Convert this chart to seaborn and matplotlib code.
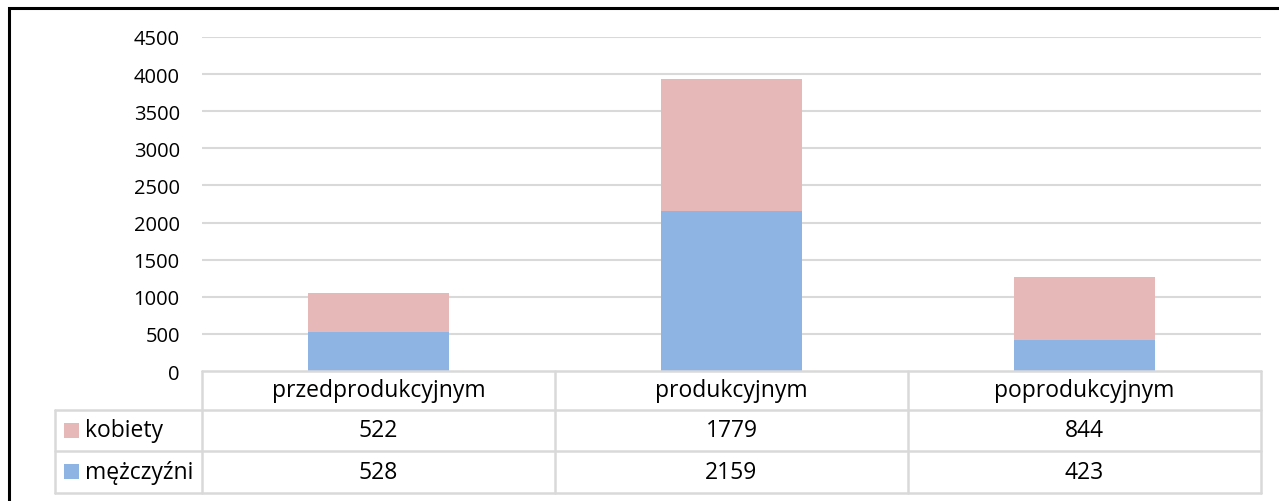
import matplotlib
matplotlib.use("Agg")
import matplotlib.pyplot as plt
import seaborn as sns
import pandas as pd
from matplotlib.patches import Rectangle

# dane
kategorie = ['przedprodukcyjnym', 'produkcyjnym', 'poprodukcyjnym']
kobiety = [522, 1779, 844]
mezczyzni = [528, 2159, 423]
serie = ['kobiety', 'mężczyźni']
kolory = {'kobiety': '#E6B8B7', 'mężczyźni': '#8EB4E3'}
y_ticks = [0, 500, 1000, 1500, 2000, 2500, 3000, 3500, 4000, 4500]

sns.set_style("white")
plt.rcParams['font.family'] = ['Open Sans', 'DejaVu Sans']
plt.rcParams['text.color'] = 'black'
plt.rcParams['ytick.color'] = 'black'

df = pd.DataFrame({'kategoria': kategorie, 'kobiety': kobiety, 'mężczyźni': mezczyzni})
df['razem'] = df['kobiety'] + df['mężczyźni']

W, H = 1279, 502
fig = plt.figure(figsize=(W / 100, H / 100), dpi=100)

# ramka wykresu
fig.patches.append(Rectangle((9 / W, -0.1), 1.2, (H - 9) / H + 0.1, transform=fig.transFigure,
                             fill=False, edgecolor='black', linewidth=2.2, zorder=10))

x0, x1, y_top, y_zero = 202, 1261, 38, 372
ax = fig.add_axes([x0 / W, (H - y_zero) / H, (x1 - x0) / W, (y_zero - y_top) / H])

# słupki skumulowane: najpierw suma (kobiety na górze), potem mężczyźni
sns.barplot(data=df, x='kategoria', y='razem', color=kolory['kobiety'], width=0.4,
            saturation=1, ax=ax, zorder=3, linewidth=0)
sns.barplot(data=df, x='kategoria', y='mężczyźni', color=kolory['mężczyźni'], width=0.4,
            saturation=1, ax=ax, zorder=3, linewidth=0)

ax.set_ylim(0, 4500)
ax.set_yticks(y_ticks)
ax.set_yticklabels([str(t) for t in y_ticks], fontsize=14.5, color='black')
ax.tick_params(axis='y', length=0, pad=16)
ax.set_xticks([])
ax.set_xlabel('')
ax.set_ylabel('')
ax.set_xlim(-0.5, 2.5)
for y in y_ticks[1:]:
    ax.axhline(y, color='#D9D9D9', linewidth=1.5, zorder=1)
for s in ax.spines.values():
    s.set_visible(False)

# tabela danych
tx0, ty1 = 55, 494
tab = fig.add_axes([tx0 / W, (H - ty1) / H, (x1 - tx0) / W, (ty1 - y_zero) / H])
tab.set_xlim(tx0, x1)
tab.set_ylim(ty1, y_zero)
tab.axis('off')
lc = '#D9D9D9'
lw = 1.8
rows_y = [y_zero, 411, 452, ty1]
col_w = (x1 - x0) / len(kategorie)
cols_x = [x0 + i * col_w for i in range(len(kategorie) + 1)]

tab.plot([x0, x1], [rows_y[0], rows_y[0]], color=lc, lw=lw, clip_on=False)
for y in rows_y[1:]:
    tab.plot([tx0, x1], [y, y], color=lc, lw=lw, clip_on=False)
tab.plot([tx0, tx0], [rows_y[1], ty1], color=lc, lw=lw, clip_on=False)
for x in cols_x:
    tab.plot([x, x], [y_zero, ty1], color=lc, lw=lw, clip_on=False)

fs = 16.5
for i, kat in enumerate(kategorie):
    cx = (cols_x[i] + cols_x[i + 1]) / 2
    tab.text(cx, (rows_y[0] + rows_y[1]) / 2, kat, ha='center', va='center', fontsize=fs)
    tab.text(cx, (rows_y[1] + rows_y[2]) / 2, str(kobiety[i]), ha='center', va='center', fontsize=fs)
    tab.text(cx, (rows_y[2] + rows_y[3]) / 2, str(mezczyzni[i]), ha='center', va='center', fontsize=fs)

for j, s in enumerate(serie):
    cy = (rows_y[j + 1] + rows_y[j + 2]) / 2
    tab.add_patch(Rectangle((64, cy - 7.5), 15, 15, facecolor=kolory[s], edgecolor='none'))
    tab.text(85, cy, s, ha='left', va='center', fontsize=fs)

fig.savefig('out.png', dpi=100)
